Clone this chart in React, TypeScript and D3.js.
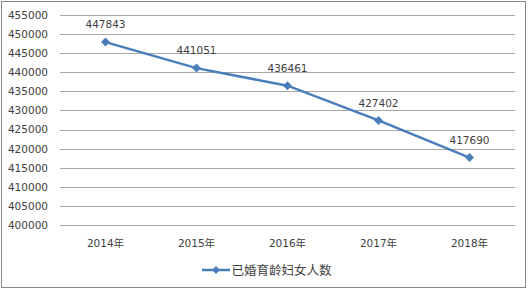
import React from "react";
import * as d3 from "d3";

const categories = ["2014年", "2015年", "2016年", "2017年", "2018年"];
const values = [447843, 441051, 436461, 427402, 417690];
const seriesName = "已婚育龄妇女人数";
const yTicks = [400000, 405000, 410000, 415000, 420000, 425000, 430000, 435000, 440000, 445000, 450000, 455000];

const W = 531;
const H = 290;
const FONT = "'DejaVu Sans', 'Noto Sans CJK SC', sans-serif";

export default function App() {
  const x = d3.scaleBand<string>().domain(categories).range([60, 515]);
  const y = d3.scaleLinear().domain([400000, 455000]).range([225.3, 14.7]);
  const line = d3
    .line<number>()
    .x((_, i) => (x(categories[i]) as number) + x.bandwidth() / 2)
    .y((d) => y(d));
  const blue = "#4A7EBB";
  const diamond = (cx: number, cy: number, r: number) =>
    `M${cx},${cy - r}L${cx + r},${cy}L${cx},${cy + r}L${cx - r},${cy}Z`;

  return (
    <svg
      width={W}
      height={H}
      style={{ position: "fixed", left: 0, top: 0, background: "#fff" }}
      fontFamily={FONT}
    >
      <rect x={1.5} y={1.5} width={524} height={286} fill="#fff" stroke="#868686" strokeWidth={1} />
      {yTicks.map((t) => (
        <g key={t}>
          <line x1={60} x2={515} y1={Math.round(y(t)) + 0.5} y2={Math.round(y(t)) + 0.5} stroke="#A6A6A6" strokeWidth={1} />
          <text x={48} y={y(t) + 3.8} textAnchor="end" fontSize={10.5} fill="#404040">
            {t}
          </text>
        </g>
      ))}
      {categories.map((c) => (
        <text key={c} x={(x(c) as number) + x.bandwidth() / 2} y={246.5} textAnchor="middle" fontSize={10.5} fill="#404040">
          {c}
        </text>
      ))}
      <path d={line(values) as string} fill="none" stroke={blue} strokeWidth={2.5} />
      {values.map((v, i) => {
        const cx = (x(categories[i]) as number) + x.bandwidth() / 2;
        return (
          <g key={i}>
            <path d={diamond(cx, y(v), 4.5)} fill={blue} />
            <text x={cx} y={y(v) - 13.8} textAnchor="middle" fontSize={10.5} fill="#404040">
              {v}
            </text>
          </g>
        );
      })}
      <g>
        <line x1={202} x2={230} y1={270} y2={270} stroke={blue} strokeWidth={2.5} />
        <path d={diamond(216, 270, 4)} fill={blue} />
        <text x={231.5} y={274.5} fontSize={12.5} fill="#404040" fontFamily="'Noto Sans CJK SC', sans-serif">
          {seriesName}
        </text>
      </g>
    </svg>
  );
}
